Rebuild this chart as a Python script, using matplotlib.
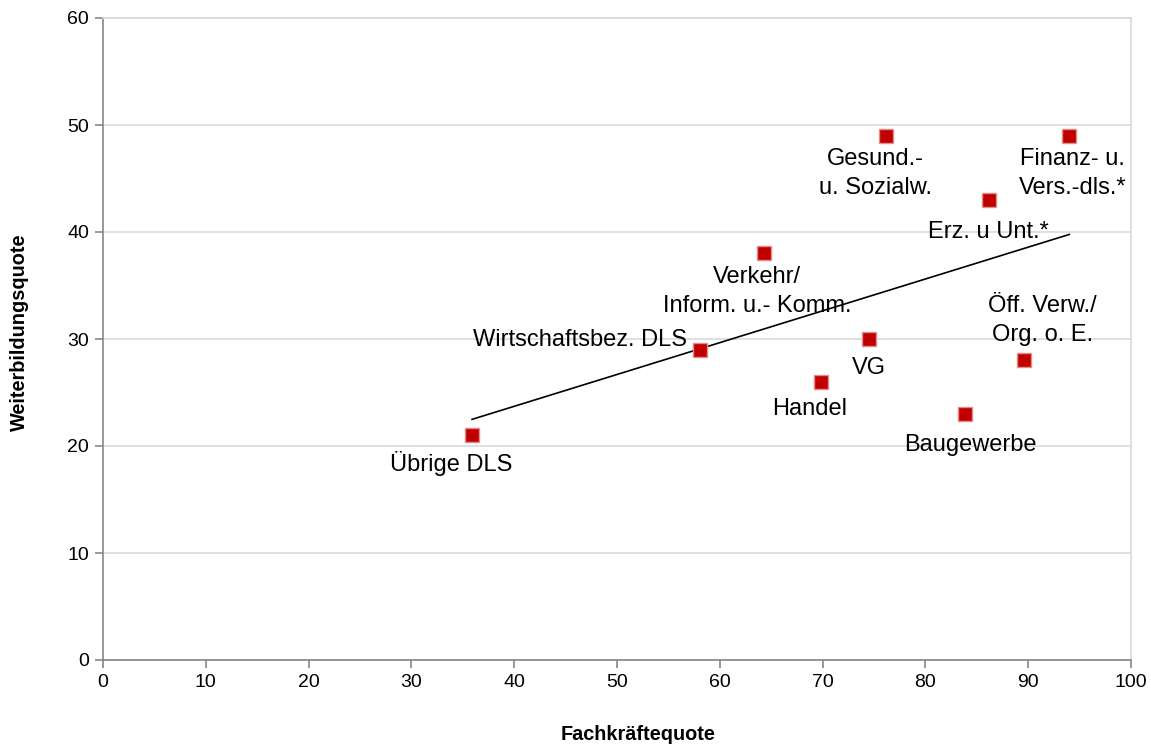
import numpy as np
import matplotlib.pyplot as plt

plt.rcParams['font.family'] = ['Liberation Sans', 'DejaVu Sans']

# Werte
branchen = ["Übrige DLS", "Wirtschaftsbez. DLS", "Verkehr/\nInform. u.- Komm.", "Handel", "VG",
            "Gesund.-\nu. Sozialw.", "Baugewerbe", "Erz. u Unt.*", "Öff. Verw./\nOrg. o. E.",
            "Finanz- u.\nVers.-dls.*"]
fachkraefte = [35.9, 58.1, 64.3, 69.8, 74.5, 76.2, 83.9, 86.2, 89.6, 94.0]
weiterbildung = [21.0, 29.0, 38.0, 26.0, 30.0, 49.0, 23.0, 43.0, 28.0, 49.0]

# label offsets in pixels (x, y) relative to the point
offsets = [(-21, -28), (-120, 10), (-7, -38), (-11, -27), (0, -29),
           (-11, -38), (5, -31), (-1, -32), (18, 40), (3, -38)]

fig = plt.figure(figsize=(11.51, 7.46), dpi=100)
ax = fig.add_axes([103/1151, 1 - 660/746, 1028/1151, 642/746])

ax.set_xlim(0, 100)
ax.set_ylim(0, 60)
ax.set_xticks(np.arange(0, 101, 10))
ax.set_yticks(np.arange(0, 61, 10))
ax.yaxis.grid(True, color='#D9D9D9', linewidth=1.2)
ax.set_axisbelow(True)

for s in ['left', 'bottom']:
    ax.spines[s].set_color('#868686')
    ax.spines[s].set_linewidth(1.2)
for s in ['top', 'right']:
    ax.spines[s].set_color('#D9D9D9')
    ax.spines[s].set_linewidth(1.2)
ax.tick_params(axis='both', colors='#868686', length=6, width=1.2, labelsize=14,
               labelcolor='black', pad=4)

# lineare Trendlinie
x = np.array(fachkraefte)
y = np.array(weiterbildung)
m, b = np.polyfit(x, y, 1)
xs = np.array([x.min(), x.max()])
ax.plot(xs, m * xs + b, color='black', linewidth=1.2, zorder=2)

ax.plot(fachkraefte, weiterbildung, linestyle='none', marker='s', markersize=9.5,
        markerfacecolor='#C00000', markeredgecolor='#E88A8A', markeredgewidth=1.0, zorder=3)

for name, xv, yv, off in zip(branchen, fachkraefte, weiterbildung, offsets):
    ax.annotate(name, (xv, yv), xytext=off, textcoords='offset pixels',
                ha='center', va='center', fontsize=17, linespacing=1.4)

fig.text(638/1151, 1 - 735/746, "Fachkräftequote", ha='center', va='center',
         fontsize=14.3, fontweight='bold')
fig.text(19/1151, 1 - 332/746, "Weiterbildungsquote", ha='center', va='center',
         rotation=90, fontsize=14.3, fontweight='bold')

fig.savefig('out.png', dpi=100)
